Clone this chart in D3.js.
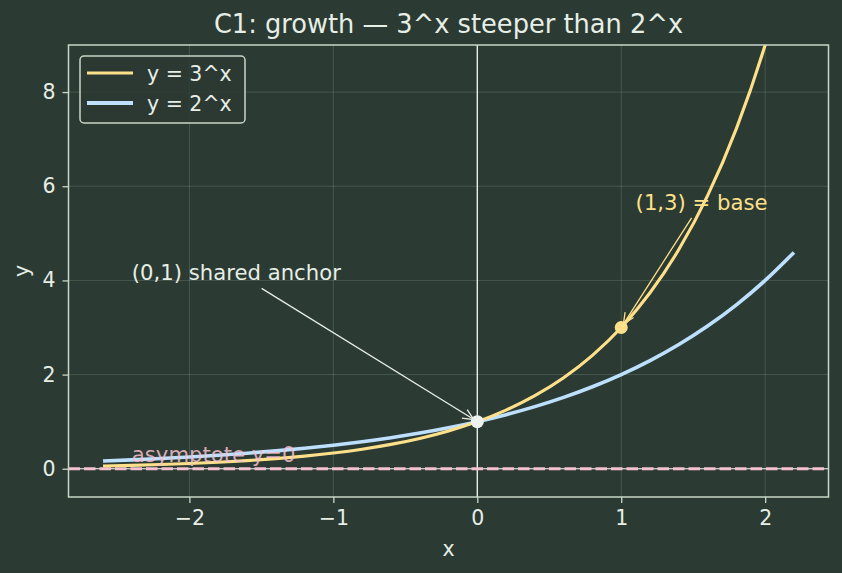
<!DOCTYPE html>
<html>
<head>
<meta charset="utf-8">
<script src="https://cdn.jsdelivr.net/npm/d3@7"></script>
<style>
  html, body { margin: 0; padding: 0; background: #2b3a33; }
  svg { display: block; font-family: "DejaVu Sans", sans-serif; }
</style>
</head>
<body>
<div class="chart"></div>
<script>
const WIDTH = 842
const HEIGHT = 573

// sample points of the two curves
const xs   = [-2.6, -2.4, -2.2, -2.0, -1.8, -1.6, -1.4, -1.2, -1.0, -0.8, -0.6, -0.4, -0.2,
              0, 0.2, 0.4, 0.6, 0.8, 1.0, 1.2, 1.4, 1.6, 1.8, 2.0, 2.2];
const pow3 = [0.0575, 0.0716, 0.0892, 0.1111, 0.1384, 0.1724, 0.2148, 0.2676, 0.3333, 0.4152,
              0.5173, 0.6444, 0.8027, 1, 1.2457, 1.5518, 1.9332, 2.4082, 3, 3.7372, 4.6555,
              5.7995, 7.2247, 9, 11.2116];
const pow2 = [0.1649, 0.1895, 0.2176, 0.25, 0.2872, 0.3299, 0.3789, 0.4353, 0.5, 0.5743,
              0.6598, 0.7579, 0.8706, 1, 1.1487, 1.3195, 1.5157, 1.7411, 2, 2.2974, 2.639,
              3.0314, 3.4822, 4, 4.5948];
const seriesNames = ["y = 3^x", "y = 2^x"];
const xTicks = [-2, -1, 0, 1, 2];
const yTicks = [0, 2, 4, 6, 8];
const anchorPt = [0, 1];
const basePt = [1, 3];

const COL3 = "#ffe08a";
const COL2 = "#bde0fe";
const PINK = "#f5c0d0";
const FG = "#e6eee6";
const SPINE = "#c9d6c9";
const FS = 20.5;
const FS_NOTE = 21.2;

const m = {left: 68.5, right: 842 - 828.5, top: 45, bottom: 573 - 497};
const pw = WIDTH - m.left - m.right;
const ph = HEIGHT - m.top - m.bottom;

const x = d3.scaleLinear().domain([-2.84, 2.44]).range([m.left, m.left + pw]);
const y = d3.scaleLinear().domain([-0.6, 9]).range([m.top + ph, m.top]);

const svg = d3.select("div.chart")
            .append("svg")
            .attr("width", WIDTH)
            .attr("height", HEIGHT);

svg.append("rect").attr("width", WIDTH).attr("height", HEIGHT).attr("fill", "#2b3a33");

svg.append("defs").append("clipPath").attr("id", "clip")
   .append("rect").attr("x", m.left).attr("y", m.top).attr("width", pw).attr("height", ph);

// grid
const grid = svg.append("g").attr("stroke", "#8fa595").attr("stroke-opacity", 0.28).attr("stroke-width", 1);
grid.selectAll(".gx").data(xTicks).enter().append("line")
    .attr("x1", d => x(d)).attr("x2", d => x(d)).attr("y1", m.top).attr("y2", m.top + ph);
grid.selectAll(".gy").data(yTicks).enter().append("line")
    .attr("y1", d => y(d)).attr("y2", d => y(d)).attr("x1", m.left).attr("x2", m.left + pw);

const plot = svg.append("g").attr("clip-path", "url(#clip)");

// x = 0 and y = 0 reference lines
plot.append("line").attr("x1", x(0)).attr("x2", x(0)).attr("y1", m.top).attr("y2", m.top + ph)
    .attr("stroke", "#f4f7f4").attr("stroke-width", 1.3);
plot.append("line").attr("x1", m.left).attr("x2", m.left + pw).attr("y1", y(0)).attr("y2", y(0))
    .attr("stroke", "#f4f7f4").attr("stroke-width", 1.2);
plot.append("line").attr("x1", m.left).attr("x2", m.left + pw).attr("y1", y(0)).attr("y2", y(0))
    .attr("stroke", PINK).attr("stroke-width", 2.8).attr("stroke-dasharray", "11.5,4");

const line = d3.line().curve(d3.curveMonotoneX);
plot.append("path")
    .attr("d", line(xs.map((v, i) => [x(v), y(pow2[i])])))
    .attr("fill", "none").attr("stroke", COL2).attr("stroke-width", 3.6);
plot.append("path")
    .attr("d", line(xs.map((v, i) => [x(v), y(pow3[i])])))
    .attr("fill", "none").attr("stroke", COL3).attr("stroke-width", 3.1);

plot.append("circle").attr("cx", x(anchorPt[0])).attr("cy", y(anchorPt[1])).attr("r", 6.5).attr("fill", "#eef2ee");
plot.append("circle").attr("cx", x(basePt[0])).attr("cy", y(basePt[1])).attr("r", 6.5).attr("fill", COL3);

// asymptote label
svg.append("text").attr("x", x(-2.4)).attr("y", y(0.15))
   .attr("font-size", FS_NOTE).attr("fill", PINK).attr("fill-opacity", 0.85)
   .text("asymptote y=0");

// annotations with arrows
function annotate(label, xy, xyText, color) {
  const t = svg.append("text").attr("x", x(xyText[0])).attr("y", y(xyText[1]))
     .attr("font-size", FS_NOTE).attr("fill", color).text(label);
  const b = t.node().getBBox();
  const pad = 3;
  const cx = b.x + b.width / 2, cy = b.y + b.height / 2;
  const tx = x(xy[0]), ty = y(xy[1]);
  const dx = tx - cx, dy = ty - cy;
  const hw = b.width / 2 + pad, hh = b.height / 2 + pad;
  const s = Math.min(Math.abs(hw / dx), Math.abs(hh / dy));
  const sx = cx + dx * s, sy = cy + dy * s;
  const len = Math.hypot(tx - sx, ty - sy);
  const ux = (tx - sx) / len, uy = (ty - sy) / len;
  const ex = tx - ux * 4, ey = ty - uy * 4;
  svg.append("line").attr("x1", sx).attr("y1", sy).attr("x2", ex).attr("y2", ey)
     .attr("stroke", color).attr("stroke-width", 1.3);
  const hl = 11, hwid = 5;
  const bx = ex - ux * hl, by = ey - uy * hl;
  svg.append("path")
     .attr("d", `M${bx - uy * hwid},${by + ux * hwid}L${ex},${ey}L${bx + uy * hwid},${by - ux * hwid}`)
     .attr("fill", "none").attr("stroke", color).attr("stroke-width", 1.3);
}
annotate("(0,1) shared anchor", anchorPt, [-2.4, 4], FG);
annotate("(1,3) = base", basePt, [1.1, 5.5], COL3);

// spines
svg.append("rect").attr("x", m.left).attr("y", m.top).attr("width", pw).attr("height", ph)
   .attr("fill", "none").attr("stroke", SPINE).attr("stroke-width", 1.5);

// axes
const fmt = d3.format("d");
const xAxis = svg.append("g").attr("transform", `translate(0,${m.top + ph})`)
   .call(d3.axisBottom(x).tickValues(xTicks).tickFormat(fmt).tickSize(6).tickPadding(7));
const yAxis = svg.append("g").attr("transform", `translate(${m.left},0)`)
   .call(d3.axisLeft(y).tickValues(yTicks).tickFormat(fmt).tickSize(6).tickPadding(7));
[xAxis, yAxis].forEach(a => {
  a.select(".domain").remove();
  a.selectAll(".tick line").attr("stroke", SPINE).attr("stroke-width", 1.3);
  a.selectAll(".tick text").attr("fill", FG).attr("font-size", FS).attr("font-family", "DejaVu Sans");
});

// labels and title
svg.append("text").attr("x", m.left + pw / 2).attr("y", 556).attr("text-anchor", "middle")
   .attr("font-size", FS).attr("fill", FG).text("x");
svg.append("text").attr("transform", `translate(29,${m.top + ph / 2}) rotate(-90)`)
   .attr("text-anchor", "middle").attr("font-size", FS).attr("fill", FG).text("y");
svg.append("text").attr("x", m.left + pw / 2).attr("y", 33).attr("text-anchor", "middle")
   .attr("font-size", 25.7).attr("fill", FG).text("C1: growth — 3^x steeper than 2^x");

// legend
const lg = svg.append("g").attr("transform", "translate(80,56)");
lg.append("rect").attr("width", 165).attr("height", 67).attr("rx", 4)
  .attr("fill", "#2b3a33").attr("fill-opacity", 0.85).attr("stroke", SPINE).attr("stroke-width", 1.5);
const items = lg.selectAll(".item").data(seriesNames).enter().append("g")
  .attr("transform", (d, i) => `translate(0,${17 + i * 30})`);
items.append("line").attr("x1", 7).attr("x2", 53).attr("y1", 0).attr("y2", 0)
  .attr("stroke", (d, i) => i === 0 ? COL3 : COL2).attr("stroke-width", (d, i) => i === 0 ? 3.2 : 3.8);
items.append("text").attr("x", 67).attr("y", 7.5).attr("font-size", FS).attr("fill", FG).text(d => d);
</script>
</body>
</html>
